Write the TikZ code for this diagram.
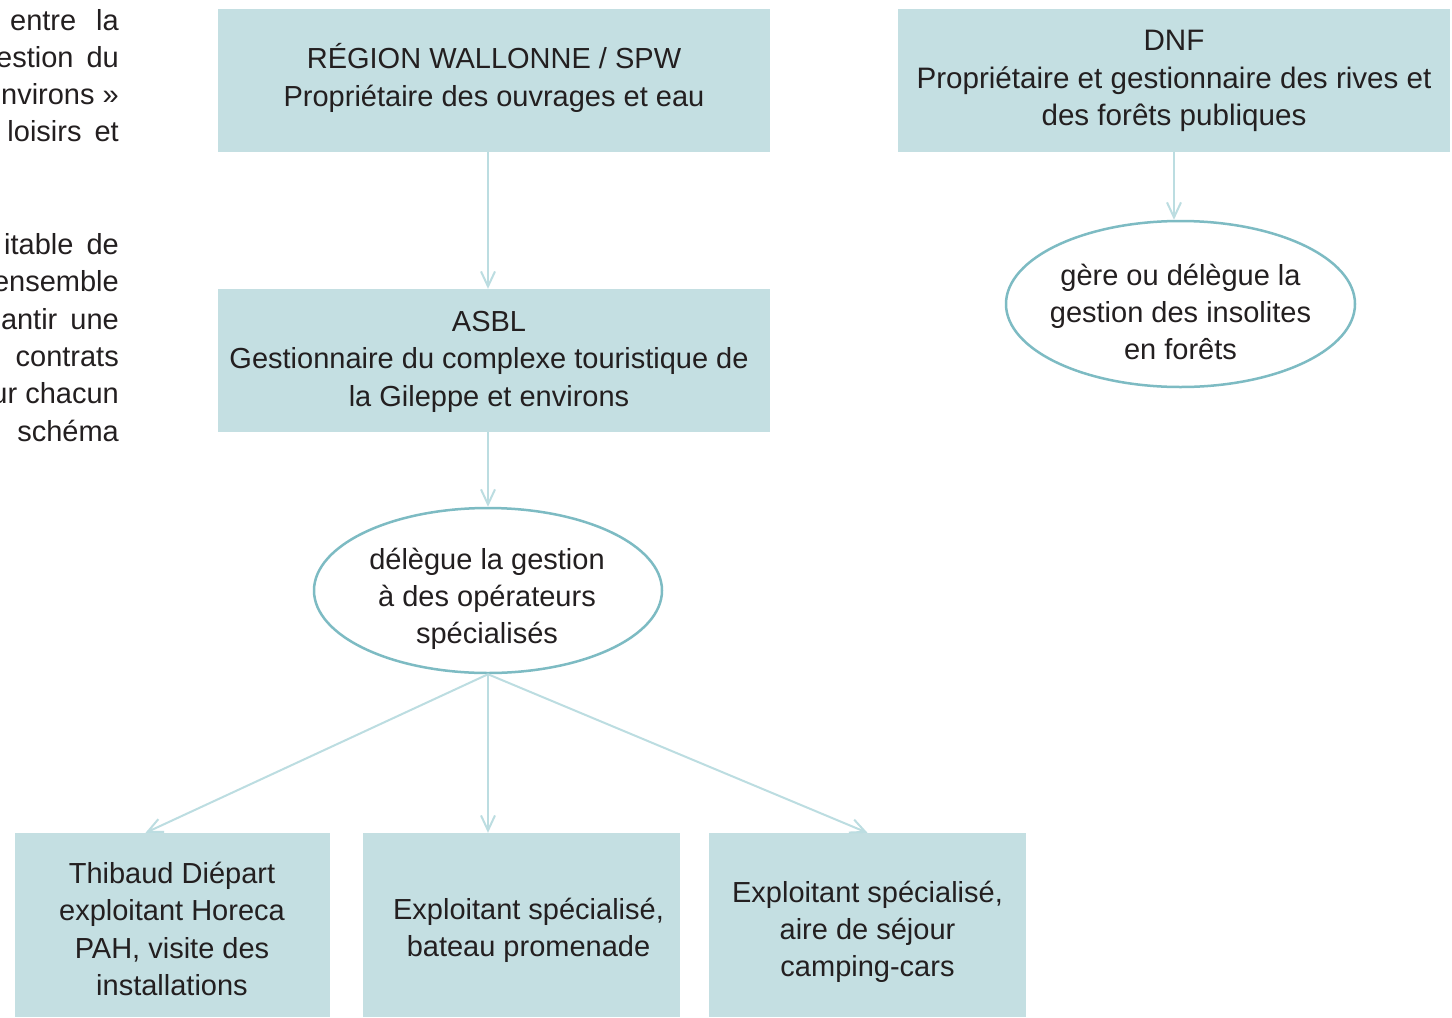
\documentclass[tikz,border=0pt]{standalone}
\usepackage{fontspec}
\setmainfont{Liberation Sans}
\usetikzlibrary{arrows.meta,shapes.geometric,calc}
\definecolor{boxfill}{HTML}{C4DFE2}
\definecolor{ellborder}{HTML}{7DBBC3}
\definecolor{arrowcol}{HTML}{BCDDE1}
\definecolor{txt}{HTML}{231F20}
\begin{document}
\begin{tikzpicture}[x=1pt,y=-1pt,
  every node/.style={text=txt,font=\fontsize{29}{37.3}\selectfont},
  boxnode/.style={rectangle,fill=boxfill,inner sep=0pt},
  ellnode/.style={ellipse,draw=ellborder,line width=2.5pt,fill=white,inner sep=0pt},
  lbl/.style={inner sep=0pt,align=center},
  conn/.style={draw=arrowcol,line width=2pt,-{Straight Barb[length=15pt,width=14pt,line width=2pt]}},
  sidetext/.style={anchor=base east,inner sep=0pt}]
\useasboundingbox (0,0) rectangle (1452,1018);
\fill[white] (0,0) rectangle (1452,1018);

% left cut-off text
\node[sidetext] (l1) at (119,30) {entre\hspace{20pt}la};
\node[sidetext] (l2) at (119,67) {estion\hspace{13pt}du};
\node[sidetext] (l3) at (119,104) {nvirons »};
\node[sidetext] (l4) at (119,141) {loisirs\hspace{13pt}et};
\node[sidetext] (l5) at (119,254) {itable\hspace{13pt}de};
\node[sidetext] (l6) at (119,291) {ensemble};
\node[sidetext] (l7) at (119,329) {antir\hspace{13pt}une};
\node[sidetext] (l8) at (119,366) {contrats};
\node[sidetext] (l9) at (119,403) {ur chacun};
\node[sidetext] (l10) at (119,441) {schéma};

% boxes and ellipses
\node[boxnode,minimum width=552,minimum height=143] (reg) at (494,80) {};
\node[boxnode,minimum width=552,minimum height=143] (dnf) at (1174,80) {};
\node[boxnode,minimum width=552,minimum height=143] (asbl) at (494,360.5) {};
\node[ellnode,minimum width=348,minimum height=165] (e1) at (488,590.5) {};
\node[ellnode,minimum width=349,minimum height=166] (e2) at (1180.5,304) {};
\node[boxnode,minimum width=315,minimum height=184] (b1) at (172.5,925) {};
\node[boxnode,minimum width=317,minimum height=184] (b2) at (521.5,925) {};
\node[boxnode,minimum width=317,minimum height=184] (b3) at (867.5,925) {};

% texts
\node[lbl] (regt) at (494,78) {RÉGION WALLONNE / SPW\\Propriétaire des ouvrages et eau};
\node[lbl,font=\fontsize{29.6}{37.6}\selectfont] (dnft) at (1174,81) {DNF\\Propriétaire et gestionnaire des rives et\\des forêts publiques};
\node[lbl] (asblt) at (489,361.8) {ASBL\\Gestionnaire du complexe touristique de\\la Gileppe et environs};
\node[lbl] (e1t) at (487,599) {délègue la gestion\\à des opérateurs\\spécialisés};
\node[lbl] (e2t) at (1180.5,312) {gère ou délègue la\\gestion des insolites\\en forêts};
\node[lbl] (b1t) at (172,929) {Thibaud Diépart\\exploitant Horeca\\PAH, visite des\\installations};
\node[lbl] (b2t) at (528.5,930) {Exploitant spécialisé,\\bateau promenade};
\node[lbl] (b3t) at (867.5,932) {Exploitant spécialisé,\\aire de séjour\\camping-cars};

% connectors
\coordinate (t1) at ($(b1.north)+(-27,0)$);
\draw[conn] (reg.south -| e1.center) -- (asbl.north -| e1.center);
\draw[conn] (asbl.south -| e1.center) -- (e1.north);
\draw[conn] (dnf.south) -- (e2.north -| dnf.south);
\draw[conn] (e1.south) -- (t1);
\draw[conn] (e1.south) -- (b2.north -| e1.south);
\draw[conn] (e1.south) -- (b3.north);
\end{tikzpicture}
\end{document}
